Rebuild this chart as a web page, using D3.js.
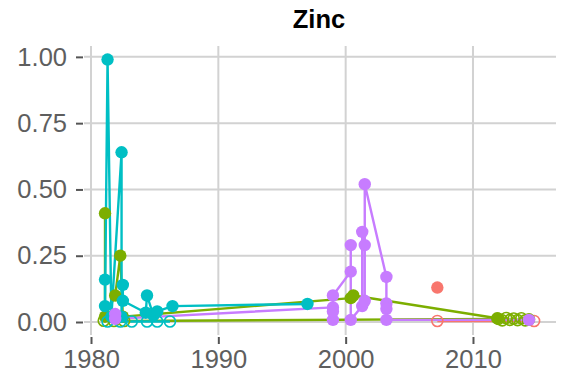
<!DOCTYPE html>
<html>
<head>
<meta charset="utf-8">
<script src="https://cdn.jsdelivr.net/npm/d3@7"></script>
<style>
  html, body { margin: 0; padding: 0; background: #ffffff; }
  svg { display: block; }
  text { font-family: "Liberation Sans", Arial, Helvetica, sans-serif; }
</style>
</head>
<body>
<svg id="chart" width="562" height="383"></svg>
<script>
// Zinc concentration by sampling year, one colour per group.
// Filled points are measured values, hollow points are non-detects.
const groups = ["g1", "g2", "g3", "g4"];
const groupColors = ["#F8766D", "#7CAE00", "#00BFC4", "#C77CFF"];

// g1 (red)
const g1Year     = [2007.2, 2007.2, 2014.8];
const g1Value    = [0.130,  0.004,  0.004];
const g1Detected = [true,   false,  false];

// g2 (green)
const g2Year     = [1981.1, 1981.1, 1981.0, 1981.8, 1981.9, 1982.3, 1982.5, 1982.6,
                    2000.4, 2000.6, 2011.9, 2012.0, 2012.3, 2012.6, 2012.9, 2013.2,
                    2013.5, 2013.8, 2014.1, 2014.4];
const g2Value    = [0.41,   0.02,   0.005,  0.004,  0.10,   0.25,   0.02,   0.004,
                    0.09,   0.10,   0.014,  0.012,  0.006,  0.015,  0.008,  0.013,
                    0.007,  0.014,  0.006,  0.010];
const g2Detected = [true,   true,   false,  false,  true,   true,   true,   false,
                    true,   true,   true,   false,  false,  false,  false,  false,
                    false,  false,  false,  false];

// g3 (cyan)
const g3Year     = [1981.1, 1981.1, 1981.3, 1981.6, 1982.4, 1982.4, 1982.5, 1982.5,
                    1984.3, 1984.4, 1984.9, 1985.2, 1986.4, 1997.0,
                    1981.3, 1982.3, 1983.2, 1984.4, 1985.2, 1986.2];
const g3Value    = [0.16,   0.06,   0.99,   0.02,   0.64,   0.02,   0.14,   0.08,
                    0.035,  0.10,   0.025,  0.04,   0.06,   0.068,
                    0.002,  0.002,  0.002,  0.002,  0.002,  0.002];
const g3Detected = [true,   true,   true,   true,   true,   true,   true,   true,
                    true,   true,   true,   true,   true,   true,
                    false,  false,  false,  false,  false,  false];

// g4 (purple)
const g4Year     = [1981.9, 1981.9, 1999.0, 1999.0, 1999.0, 1999.0, 2000.4, 2000.4,
                    2000.4, 2001.3, 2001.3, 2001.5, 2001.5, 2001.5, 2003.2, 2003.2,
                    2003.2, 2003.2, 2014.4];
const g4Value    = [0.03,   0.012,  0.055,  0.008,  0.04,   0.10,   0.19,   0.29,
                    0.008,  0.06,   0.34,   0.29,   0.08,   0.52,   0.17,   0.07,
                    0.05,   0.008,  0.008];
const g4Detected = [true,   true,   true,   true,   true,   true,   true,   true,
                    true,   true,   true,   true,   true,   true,   true,   true,
                    true,   true,   true];

const xTicks = [1980, 1990, 2000, 2010];
const yTicks = [0, 0.25, 0.50, 0.75, 1.00];
const title = "Zinc";

const seriesYears = [g1Year, g2Year, g3Year, g4Year];
const seriesValues = [g1Value, g2Value, g3Value, g4Value];
const seriesDetected = [g1Detected, g2Detected, g3Detected, g4Detected];

const points = [];
groups.forEach((g, gi) => {
  seriesYears[gi].forEach((yr, i) => {
    points.push({ group: g, gi, year: yr, value: seriesValues[gi][i],
                  detected: seriesDetected[gi][i], order: i });
  });
});

// Panel geometry
const panel = { left: 84, right: 556, top: 46, bottom: 335 };

const x = d3.scaleLinear().domain([1979.45, 2016.52]).range([panel.left, panel.right]);
const y = d3.scaleLinear().domain([-0.049, 1.041]).range([panel.bottom, panel.top]);
const color = d3.scaleOrdinal().domain(groups).range(groupColors);

const svg = d3.select("#chart");

// Grid
const grid = svg.append("g").attr("stroke", "#d2d2d2").attr("stroke-width", 2);
grid.selectAll("line.h").data(yTicks).join("line")
  .attr("x1", panel.left).attr("x2", panel.right)
  .attr("y1", d => y(d)).attr("y2", d => y(d));
grid.selectAll("line.v").data(xTicks).join("line")
  .attr("y1", panel.top).attr("y2", panel.bottom)
  .attr("x1", d => x(d)).attr("x2", d => x(d));

// Axes (ticks + labels only)
const xAxis = d3.axisBottom(x).tickValues(xTicks).tickFormat(d3.format("d"))
  .tickSize(7).tickPadding(6);
const yAxis = d3.axisLeft(y).tickValues(yTicks).tickFormat(d3.format(".2f"))
  .tickSize(7).tickPadding(9);

const gx = svg.append("g").attr("transform", `translate(0,${panel.bottom + 2})`).call(xAxis);
const gy = svg.append("g").attr("transform", `translate(${panel.left - 1},0)`).call(yAxis);
[gx, gy].forEach(g => {
  g.select(".domain").remove();
  g.selectAll(".tick line").attr("stroke", "#555555").attr("stroke-width", 2);
  g.selectAll(".tick text").attr("fill", "#5e5e5e")
    .style("font-size", "25.5px").style("font-family", "'Liberation Sans', Arial, sans-serif");
});

// Lines: one per group and detection status, ordered by year
const lineGen = d3.line().x(d => x(d.year)).y(d => y(d.value));
const lineGroups = d3.groups(points, d => d.gi, d => d.detected);
const lineData = [];
lineGroups.sort((a, b) => a[0] - b[0]).forEach(([gi, byDet]) => {
  byDet.forEach(([det, pts]) => {
    const sorted = pts.slice().sort((a, b) => a.year - b.year || a.order - b.order);
    if (sorted.length > 1) lineData.push({ gi, pts: sorted });
  });
});
svg.append("g").selectAll("path").data(lineData).join("path")
  .attr("d", d => lineGen(d.pts))
  .attr("fill", "none")
  .attr("stroke", d => color(groups[d.gi]))
  .attr("stroke-width", 2.4)
  .attr("stroke-linejoin", "round");

// Points
svg.append("g").selectAll("circle").data(points).join("circle")
  .attr("cx", d => x(d.year))
  .attr("cy", d => y(d.value))
  .attr("r", d => d.detected ? 6.2 : 5.5)
  .attr("fill", d => d.detected ? color(d.group) : "none")
  .attr("stroke", d => d.detected ? "none" : color(d.group))
  .attr("stroke-width", 1.6);

// Title
svg.append("text")
  .attr("x", (panel.left + panel.right) / 2 - 1)
  .attr("y", 28)
  .attr("text-anchor", "middle")
  .attr("fill", "#000000")
  .style("font-size", "25.5px")
  .style("font-weight", "bold")
  .text(title);
</script>
</body>
</html>
